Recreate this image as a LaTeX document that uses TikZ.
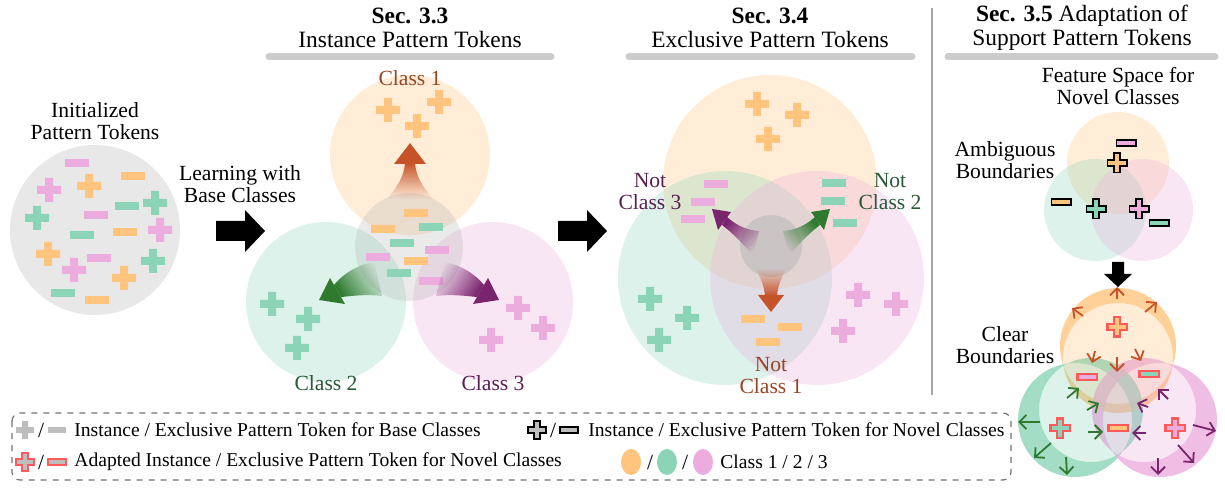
\documentclass[tikz,border=0pt]{standalone}
\usepackage{fontspec}
\setmainfont{Liberation Serif}
\usepackage{xcolor}
\usepackage{tikz}
\usetikzlibrary{arrows.meta}
\usetikzlibrary{fadings}

\definecolor{orT}{RGB}{255,196,125}
\definecolor{grT}{RGB}{140,212,184}
\definecolor{pkT}{RGB}{236,172,222}
\definecolor{orD}{RGB}{198,82,40}
\definecolor{grD}{RGB}{46,122,46}
\definecolor{pkD}{RGB}{122,36,110}
\definecolor{orL}{RGB}{150,70,35}
\definecolor{grL}{RGB}{40,90,55}
\definecolor{pkL}{RGB}{90,30,85}
\definecolor{baseT}{RGB}{190,190,190}
\definecolor{adaptR}{RGB}{255,90,90}

\tikzfading[name=fadeup, top color=transparent!0, bottom color=transparent!100]

\begin{document}
\begin{tikzpicture}[x=0.5pt,y=-0.5pt,
    tokplus/.pic={\path[pic actions] (-12,-4) -- (-4,-4) -- (-4,-12) -- (4,-12) -- (4,-4) -- (12,-4)
      -- (12,4) -- (4,4) -- (4,12) -- (-4,12) -- (-4,4) -- (-12,4) -- cycle;},
    tokminus/.pic={\path[pic actions] (-12,-4) rectangle (12,4);},
    novel/.style={draw=black, line width=0.9pt, scale=0.8},
    adapted/.style={draw=adaptR, line width=1.1pt, scale=0.8},
    small/.style={scale=0.75},
    classdisk/.style={fill=#1, fill opacity=0.3},
    mixdisk/.style={fill=gray!60, fill opacity=#1},
    header/.style={align=center, font=\fontsize{11.7}{12}\selectfont},
    lbl/.style={align=center, font=\fontsize{10.8}{11}\selectfont},
    legend/.style={anchor=west, inner sep=0pt, font=\fontsize{9.8}{10}\selectfont},
    bar/.style={draw=black!20, line width=3.5pt, line cap=round},
    boundary/.style={line width=0.9pt, -{Straight Barb[length=3.5pt,width=7pt]}},
  ]
  \useasboundingbox (0,0) rectangle (1225,491);

  % initialized tokens
  \fill[black!9] (95,230) circle (85);
  \node[lbl] (init) at (95,121) {Initialized\\Pattern Tokens};
  \pic[fill=pkT] at (77,163) {tokminus};
  \pic[fill=orT] at (133,176) {tokminus};
  \pic[fill=pkT] at (49,190) {tokplus};
  \pic[fill=orT] at (89,186) {tokplus};
  \pic[fill=grT] at (127,206) {tokminus};
  \pic[fill=grT] at (155,203) {tokplus};
  \pic[fill=grT] at (37,218) {tokplus};
  \pic[fill=pkT] at (96,215) {tokminus};
  \pic[fill=pkT] at (160,230) {tokplus};
  \pic[fill=orT] at (125,232) {tokminus};
  \pic[fill=grT] at (82,235) {tokminus};
  \pic[fill=orT] at (48,254) {tokplus};
  \pic[fill=pkT] at (99,258) {tokminus};
  \pic[fill=pkT] at (74,270) {tokplus};
  \pic[fill=grT] at (153,261) {tokplus};
  \pic[fill=orT] at (124,278) {tokplus};
  \pic[fill=grT] at (63,293) {tokminus};
  \pic[fill=orT] at (97,300) {tokminus};

  \node[lbl] (learn) at (240,184) {Learning with\\Base Classes};
  \fill (216,221) -- (245,221) -- (245,210) -- (265,231) -- (245,252) -- (245,241) -- (216,241) -- cycle;
  \fill (558,221) -- (587,221) -- (587,210) -- (607,231) -- (587,252) -- (587,241) -- (558,241) -- cycle;

  % Sec. 3.3
  \node[header] (sec33) at (410,28) {\textbf{Sec. 3.3}\\Instance Pattern Tokens};
  \draw[bar] (269,57) -- (551,57);
  \fill[classdisk=orT] (410,155) circle (80);
  \fill[classdisk=grT] (326,302) circle (80);
  \fill[classdisk=pkT] (493,302) circle (80);
  \pic[fill=orT] at (388,110) {tokplus};
  \pic[fill=orT] at (439,102) {tokplus};
  \pic[fill=orT] at (417,126) {tokplus};
  \pic[fill=grT] at (272,304) {tokplus};
  \pic[fill=grT] at (308,319) {tokplus};
  \pic[fill=grT] at (297,348) {tokplus};
  \pic[fill=pkT] at (518,308) {tokplus};
  \pic[fill=pkT] at (543,328) {tokplus};
  \pic[fill=pkT] at (491,340) {tokplus};
  \fill[mixdisk=0.28] (409,247) circle (54);
  \pic[fill=orT] at (416,213) {tokminus};
  \pic[fill=orT] at (383,229) {tokminus};
  \pic[fill=grT] at (431,227) {tokminus};
  \pic[fill=grT] at (402,243) {tokminus};
  \pic[fill=pkT] at (437,250) {tokminus};
  \pic[fill=pkT] at (378,257) {tokminus};
  \pic[fill=orT] at (416,261) {tokminus};
  \pic[fill=grT] at (399,273) {tokminus};
  \pic[fill=pkT] at (431,281) {tokminus};
  \fill[orD, path fading=fadeup] (387,199) .. controls (398,186) and (404,176) .. (405,163)
    -- (415,163) .. controls (416,176) and (422,186) .. (433,199) -- cycle;
  \fill[orD] (394,164) -- (410,143) -- (426,164) -- cycle;
  \fill[grD, path fading=fadeup, fading angle=115] (334,285) .. controls (345,272) and (358,265) .. (374,262)
    -- (382,296) .. controls (366,294) and (352,296) .. (341,297) -- cycle;
  \fill[grD] (330,278) -- (319,300) -- (345,304) -- cycle;
  \fill[pkD, path fading=fadeup, fading angle=-115] (484,285) .. controls (473,272) and (460,265) .. (444,262)
    -- (436,296) .. controls (452,294) and (466,296) .. (477,297) -- cycle;
  \fill[pkD] (488,278) -- (499,300) -- (473,304) -- cycle;
  \node[lbl, text=orL] (c1) at (410,78) {Class 1};
  \node[lbl, text=grL] (c2) at (326,383) {Class 2};
  \node[lbl, text=pkL] (c3) at (493,383) {Class 3};

  % Sec. 3.4
  \node[header] (sec34) at (770,28) {\textbf{Sec. 3.4}\\Exclusive Pattern Tokens};
  \draw[bar] (629,57) -- (912,57);
  \fill[classdisk=orT] (770,182) circle (107);
  \fill[classdisk=grT] (725,278) circle (107);
  \fill[classdisk=pkT] (817,278) circle (107);
  \fill[mixdisk=0.45] (771,246) circle (31);
  \pic[fill=orT] at (757,104) {tokplus};
  \pic[fill=orT] at (797,115) {tokplus};
  \pic[fill=orT] at (768,139) {tokplus};
  \pic[fill=grT] at (650,299) {tokplus};
  \pic[fill=grT] at (687,318) {tokplus};
  \pic[fill=grT] at (659,340) {tokplus};
  \pic[fill=pkT] at (858,295) {tokplus};
  \pic[fill=pkT] at (896,304) {tokplus};
  \pic[fill=pkT] at (843,331) {tokplus};
  \pic[fill=pkT] at (716,184) {tokminus};
  \pic[fill=pkT] at (703,202) {tokminus};
  \pic[fill=pkT] at (693,219) {tokminus};
  \pic[fill=grT] at (834,183) {tokminus};
  \pic[fill=grT] at (833,201) {tokminus};
  \pic[fill=grT] at (845,223) {tokminus};
  \pic[fill=orT] at (753,319) {tokminus};
  \pic[fill=orT] at (790,327) {tokminus};
  \pic[fill=orT] at (768,342) {tokminus};
  \fill[pkD, path fading=fadeup, fading angle=45] (727,217) .. controls (737,226) and (747,230) .. (759,231)
    -- (753,256) .. controls (745,246) and (734,234) .. (722,225) -- cycle;
  \fill[pkD] (731,212) -- (712,209) -- (718,230) -- cycle;
  \fill[grD, path fading=fadeup, fading angle=-45] (815,217) .. controls (805,226) and (795,230) .. (783,231)
    -- (789,256) .. controls (797,246) and (808,234) .. (820,225) -- cycle;
  \fill[grD] (811,212) -- (830,209) -- (824,230) -- cycle;
  \fill[orD, path fading=fadeup, fading angle=180] (765,296) .. controls (764,286) and (761,278) .. (755,268)
    -- (787,268) .. controls (781,278) and (778,286) .. (777,296) -- cycle;
  \fill[orD] (758,295) -- (771,312) -- (784,295) -- cycle;
  \node[lbl, text=pkL] (nc3) at (650,192) {Not\\Class 3};
  \node[lbl, text=grL] (nc2) at (890,192) {Not\\Class 2};
  \node[lbl, text=orL] (nc1) at (771,376) {Not\\Class 1};

  \draw[black!35, line width=1pt] (932,8) -- (932,395);

  % Sec. 3.5
  \node[header] (sec35) at (1082,28) {\textbf{Sec. 3.5} Adaptation of\\Support Pattern Tokens};
  \draw[bar] (948,57) -- (1215,57);
  \node[lbl] (space) at (1118,86) {Feature Space for\\Novel Classes};
  \node[lbl] (ambig) at (1005,160) {Ambiguous\\Boundaries};
  \fill[classdisk=orT] (1118,163) circle (51);
  \fill[classdisk=grT] (1095,210) circle (51);
  \fill[classdisk=pkT] (1142,210) circle (51);
  \pic[fill=pkT, novel] at (1126,143) {tokminus};
  \pic[fill=orT, novel] at (1117,163) {tokplus};
  \pic[fill=orT, novel] at (1061,202) {tokminus};
  \pic[fill=grT, novel] at (1096,209) {tokplus};
  \pic[fill=pkT, novel] at (1139,209) {tokplus};
  \pic[fill=grT, novel] at (1159,223) {tokminus};
  \fill (1112,262) -- (1124,262) -- (1124,274) -- (1132,274) -- (1118,287) -- (1104,274) -- (1112,274) -- cycle;

  \node[lbl] (clear) at (1005,345) {Clear\\Boundaries};
  \fill[orT, fill opacity=0.8, even odd rule] (1118,346) circle (58) (1118,358) circle (55);
  \fill[grT, fill opacity=0.8, even odd rule] (1075,420) circle (57) (1091,410) circle (52);
  \fill[pkT, fill opacity=0.8, even odd rule] (1160,420) circle (57) (1144,410) circle (52);
  \fill[classdisk=orT] (1118,358) circle (55);
  \fill[classdisk=grT] (1091,410) circle (52);
  \fill[classdisk=pkT] (1144,410) circle (52);
  \pic[fill=orT, adapted] at (1117,327) {tokplus};
  \pic[fill=pkT, adapted] at (1087,377) {tokminus};
  \pic[fill=grT, adapted] at (1149,374) {tokminus};
  \pic[fill=orT, adapted] at (1118,428) {tokminus};
  \pic[fill=grT, adapted] at (1060,428) {tokplus};
  \pic[fill=pkT, adapted] at (1175,428) {tokplus};
  \draw[boundary, orD] (1117,299) -- (1117,287);
  \draw[boundary, orD] (1083,316) -- (1072,308);
  \draw[boundary, orD] (1145,312) -- (1157,302);
  \draw[boundary, orD] (1095,351) -- (1092,363);
  \draw[boundary, orD] (1117,357) -- (1117,372);
  \draw[boundary, orD] (1135,349) -- (1141,361);
  \draw[boundary, grD] (1040,422) -- (1018,422);
  \draw[boundary, grD] (1051,443) -- (1034,458);
  \draw[boundary, grD] (1066,457) -- (1067,475);
  \draw[boundary, grD] (1067,398) -- (1079,388);
  \draw[boundary, grD] (1087,410) -- (1099,403);
  \draw[boundary, grD] (1088,432) -- (1103,432);
  \draw[boundary, pkD] (1193,425) -- (1216,431);
  \draw[boundary, pkD] (1178,445) -- (1194,463);
  \draw[boundary, pkD] (1158,458) -- (1158,475);
  \draw[boundary, pkD] (1168,399) -- (1158,389);
  \draw[boundary, pkD] (1148,407) -- (1137,403);
  \draw[boundary, pkD] (1146,433) -- (1132,433);

  % legend
  \draw[black!55, dashed, line width=0.6pt, rounded corners=4pt] (12,413) rectangle (1011,480);
  \pic[fill=baseT, small] at (25,430) {tokplus};
  \node[lbl] (sl1) at (41,430) {/};
  \pic[fill=baseT, small] at (57,430) {tokminus};
  \node[legend] (lg1) at (74,430) {Instance / Exclusive Pattern Token for Base Classes};
  \pic[fill=baseT, small, draw=black, line width=1.1pt] at (537,430) {tokplus};
  \node[lbl] (sl2) at (553,430) {/};
  \pic[fill=baseT, small, draw=black, line width=1.1pt] at (569,430) {tokminus};
  \node[legend] (lg2) at (588,430) {Instance / Exclusive Pattern Token for Novel Classes};
  \pic[fill=baseT, small, draw=adaptR, line width=1.1pt] at (25,462) {tokplus};
  \node[lbl] (sl3) at (41,462) {/};
  \pic[fill=baseT, small, draw=adaptR, line width=1.1pt] at (57,462) {tokminus};
  \node[legend] (lg3) at (74,462) {Adapted Instance / Exclusive Pattern Token for Novel Classes};
  \fill[orT] (631,462) ellipse (10 and 13);
  \node[lbl] (sl4) at (650,462) {/};
  \fill[grT] (667,462) ellipse (10 and 13);
  \node[lbl] (sl5) at (685,462) {/};
  \fill[pkT] (703,462) ellipse (10 and 13);
  \node[legend] (lg4) at (720,462) {Class 1 / 2 / 3};
\end{tikzpicture}
\end{document}
